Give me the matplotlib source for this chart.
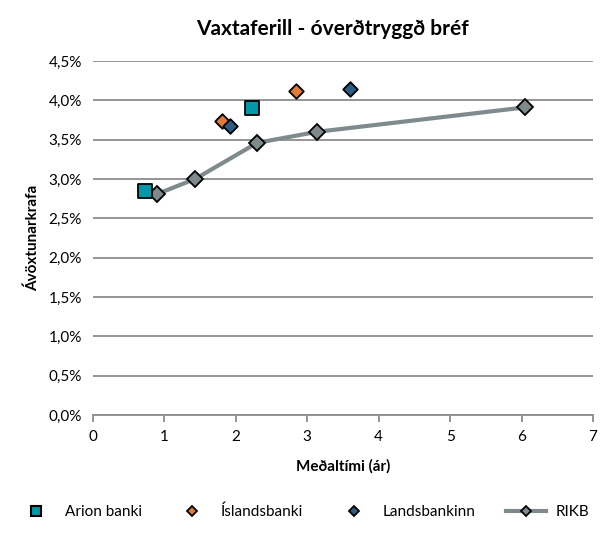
import matplotlib
matplotlib.use("Agg")
import matplotlib.pyplot as plt
from matplotlib.ticker import FuncFormatter
from matplotlib.lines import Line2D

plt.rcParams['font.family'] = ['Lato', 'DejaVu Sans']

arion_x = [0.73, 2.23]
arion_y = [2.85, 3.90]
isl_x = [1.81, 2.84]
isl_y = [3.74, 4.12]
lands_x = [1.92, 3.60]
lands_y = [3.67, 4.14]
rikb_x = [0.90, 1.43, 2.30, 3.14, 6.05]
rikb_y = [2.81, 3.00, 3.46, 3.60, 3.91]

c_arion, c_isl, c_lands, c_rikb = '#0097a7', '#e07b39', '#2e5b82', '#7f8a8c'

fig = plt.figure(figsize=(6.05, 5.33), dpi=100)
ax = fig.add_axes([0.1537, 0.2214, 0.8264, 0.6642])

ax.plot(rikb_x, rikb_y, color=c_rikb, lw=3, marker='D', ms=8,
        mfc=c_rikb, mec='black', mew=1.3, label='RIKB', zorder=3)
ax.scatter(arion_x, arion_y, marker='s', s=110, c=c_arion, edgecolors='black',
           linewidths=1.3, label='Arion banki', zorder=4)
ax.scatter(isl_x, isl_y, marker='D', s=55, c=c_isl, edgecolors='black',
           linewidths=1.3, label='Íslandsbanki', zorder=4)
ax.scatter(lands_x, lands_y, marker='D', s=55, c=c_lands, edgecolors='black',
           linewidths=1.3, label='Landsbankinn', zorder=4)

ax.set_xlim(0, 7)
ax.set_ylim(0, 4.5)
ax.set_xticks(range(0, 8))
ax.set_yticks([i * 0.5 for i in range(10)])
ax.yaxis.set_major_formatter(FuncFormatter(lambda v, p: f"{v:.1f}%".replace('.', ',')))
ax.grid(axis='y', color='#8c8c8c', lw=1.3)
ax.set_axisbelow(True)
for s in ['left', 'right', 'top']:
    ax.spines[s].set_visible(False)
ax.spines['bottom'].set_color('#8c8c8c')
ax.spines['bottom'].set_linewidth(1.3)
ax.tick_params(axis='y', length=0, labelsize=11, pad=8)
ax.tick_params(axis='x', length=5, color='#8c8c8c', width=1.3, labelsize=11, pad=6)

ax.set_xlabel('Meðaltími (ár)', fontsize=11, fontweight='bold', labelpad=11)
ax.set_ylabel('Ávöxtunarkrafa', fontsize=11, fontweight='bold', labelpad=6)
fig.suptitle('Vaxtaferill - óverðtryggð bréf', x=0.55, y=0.965, fontsize=15, fontweight='bold')

handles = [
    Line2D([], [], ls='none', marker='s', ms=7, mfc=c_arion, mec='black', mew=1.5),
    Line2D([], [], ls='none', marker='D', ms=5.5, mfc=c_isl, mec='black', mew=1.3),
    Line2D([], [], ls='none', marker='D', ms=5.5, mfc=c_lands, mec='black', mew=1.3),
    Line2D([], [], color=c_rikb, lw=3, marker='D', ms=5.5, mfc=c_rikb, mec='black', mew=1.3),
]
labels = ['Arion banki', 'Íslandsbanki', 'Landsbankinn', 'RIKB']
fig.legend(handles, labels, loc='lower center',
           bbox_to_anchor=(0.5, 0.0), ncol=4, frameon=False, fontsize=11,
           columnspacing=2.0, handlelength=2.6, handletextpad=0.6)

fig.savefig('out.png', dpi=100)
